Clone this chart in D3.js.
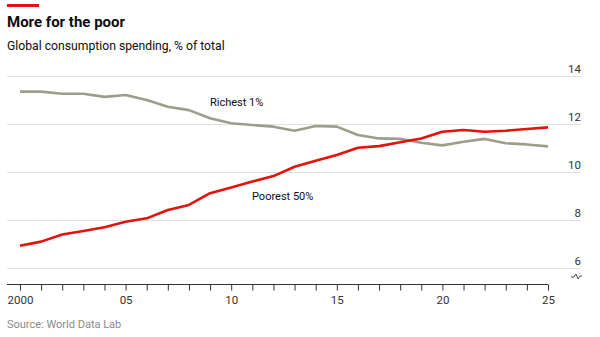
<!DOCTYPE html>
<html>
<head>
<meta charset="utf-8">
<script src="https://cdn.jsdelivr.net/npm/d3@7"></script>
<style>
  body { margin: 0; background: #fff; }
  svg { display: block; font-family: Roboto, "Liberation Sans", sans-serif; }
</style>
</head>
<body>
<div id="chart"></div>
<script>
// Global consumption spending share, % of total
const years = d3.range(2000, 2026);
const richest1 = [13.37, 13.37, 13.28, 13.28, 13.15, 13.23, 13.02, 12.74, 12.60, 12.26,
                  12.05, 11.98, 11.91, 11.74, 11.94, 11.91, 11.56, 11.42, 11.40, 11.24,
                  11.13, 11.28, 11.40, 11.22, 11.17, 11.09];
const poorest50 = [6.95, 7.12, 7.42, 7.56, 7.72, 7.95, 8.09, 8.44, 8.65, 9.14,
                   9.38, 9.62, 9.85, 10.24, 10.49, 10.73, 11.03, 11.10, 11.26, 11.42,
                   11.70, 11.77, 11.70, 11.74, 11.81, 11.88];
const yTicks = [6, 8, 10, 12, 14];
const xLabels = {2000: "2000", 2005: "05", 2010: "10", 2015: "15", 2020: "20", 2025: "25"};

const width = 600, height = 337;
const red = "#e3120b", grey = "#9e9d8c";

const svg = d3.select("#chart").append("svg")
    .attr("width", width)
    .attr("height", height);

// Header
svg.append("rect").attr("x", 7).attr("y", 4).attr("width", 32).attr("height", 3).attr("fill", red);
svg.append("text").attr("x", 7).attr("y", 27)
    .attr("font-size", 15).attr("font-weight", 700).attr("fill", "#0d0d0d")
    .text("More for the poor");
svg.append("text").attr("x", 7).attr("y", 50)
    .attr("font-size", 12.2).attr("fill", "#0d0d0d")
    .text("Global consumption spending, % of total");

const x = d3.scaleLinear().domain([2000, 2025]).range([20, 548]);
const y = d3.scaleLinear().domain([6, 14]).range([268.5, 76.5]);

// Gridlines and right-hand labels
const grid = svg.append("g");
grid.selectAll("line").data(yTicks).join("line")
    .attr("x1", 7).attr("x2", 581)
    .attr("y1", d => y(d)).attr("y2", d => y(d))
    .attr("stroke", "#e1e1e1").attr("stroke-width", 1);
grid.selectAll("text").data(yTicks).join("text")
    .attr("x", 581).attr("y", d => y(d) - 4)
    .attr("text-anchor", "end")
    .attr("font-size", 11.5).attr("fill", "#333")
    .text(d => d);

// Axis break marker below the lowest gridline
svg.append("path")
    .attr("d", "M571,277 L574,277 L576,274 L578,279 L580,276 L582,276")
    .attr("fill", "none").attr("stroke", "#333").attr("stroke-width", 0.9);

// Bottom axis
const xAxis = d3.axisBottom(x)
    .tickValues(years)
    .tickSize(6)
    .tickFormat(d => xLabels[d] || "");
const axisG = svg.append("g")
    .attr("transform", "translate(0,284.5)")
    .call(xAxis);
axisG.select(".domain").attr("d", "M7,0H548").attr("stroke", "#333");
axisG.selectAll(".tick line").attr("stroke", "#333");
axisG.selectAll(".tick text")
    .attr("y", 11)
    .attr("font-family", "Roboto, 'Liberation Sans', sans-serif")
    .attr("font-size", 11.5).attr("fill", "#333");

// Lines
const line = d3.line().x((d, i) => x(years[i])).y(d => y(d));
svg.append("path").datum(richest1)
    .attr("d", line).attr("fill", "none")
    .attr("stroke", grey).attr("stroke-width", 2.6).attr("stroke-linejoin", "round");
svg.append("path").datum(poorest50)
    .attr("d", line).attr("fill", "none")
    .attr("stroke", red).attr("stroke-width", 2.6).attr("stroke-linejoin", "round");

// Series labels
svg.append("text").attr("x", 210).attr("y", 106)
    .attr("font-size", 11).attr("fill", "#0d0d0d").text("Richest 1%");
svg.append("text").attr("x", 252).attr("y", 200)
    .attr("font-size", 11).attr("fill", "#0d0d0d").text("Poorest 50%");

// Source
svg.append("text").attr("x", 7).attr("y", 328)
    .attr("font-size", 11).attr("fill", "#8a8a8a")
    .text("Source: World Data Lab");
</script>
</body>
</html>
